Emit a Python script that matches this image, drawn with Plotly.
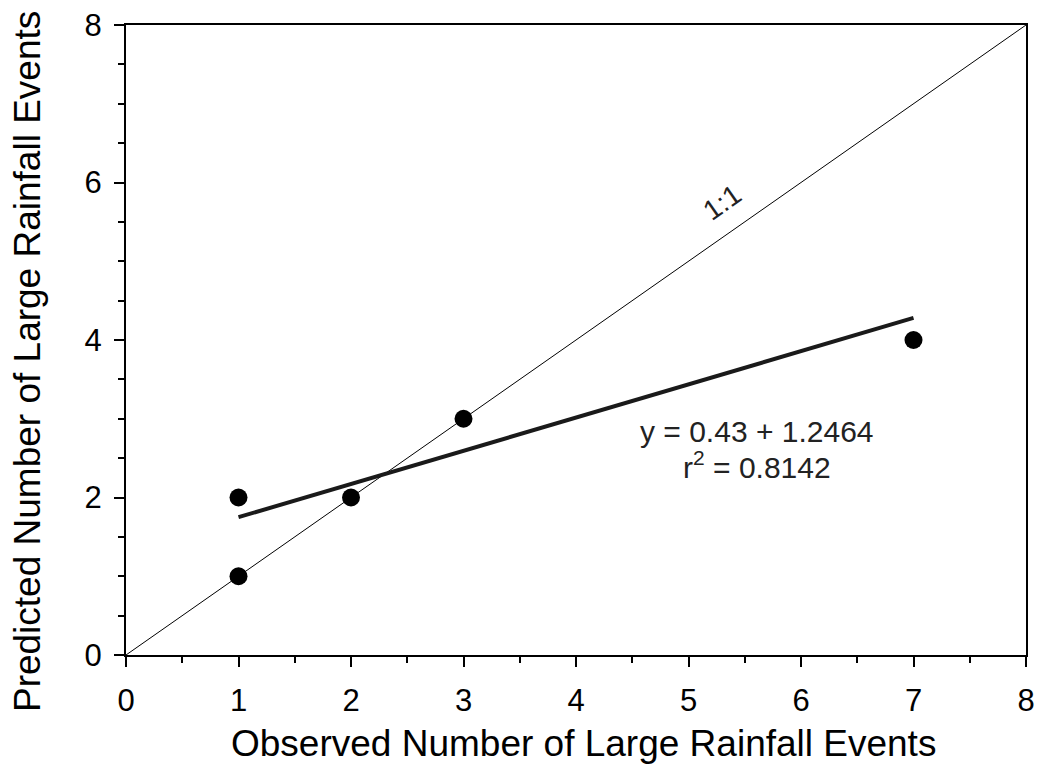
import plotly.graph_objects as go

observed = [1, 1, 2, 3, 7]
predicted = [2, 1, 2, 3, 4]
fit_x = [1, 7]
fit_y = [1.75, 4.28]
one_to_one = [0, 8]
tick_vals = [0, 1, 2, 3, 4, 5, 6, 7, 8]
y_tick_vals = [0, 2, 4, 6, 8]
x_title = "Observed Number of Large Rainfall Events"
y_title = "Predicted Number of Large Rainfall Events"

FONT = "Liberation Sans, Arial, sans-serif"

fig = go.Figure()
fig.add_trace(go.Scatter(x=one_to_one, y=one_to_one, mode="lines",
                         line=dict(color="black", width=1), showlegend=False))
fig.add_trace(go.Scatter(x=fit_x, y=fit_y, mode="lines",
                         line=dict(color="#1a1a1a", width=4), showlegend=False))
fig.add_trace(go.Scatter(x=observed, y=predicted, mode="markers",
                         marker=dict(color="black", size=18), showlegend=False, cliponaxis=False))

fig.add_annotation(x=5.3, y=5.74, text="1:1", showarrow=False, textangle=-35,
                   font=dict(family=FONT, size=28, color="#222"))
fig.add_annotation(x=5.61, y=2.84, text="y = 0.43 + 1.2464", showarrow=False,
                   font=dict(family=FONT, size=30, color="#222"))
fig.add_annotation(x=5.61, y=2.41, text="r<sup>2</sup> = 0.8142", showarrow=False,
                   font=dict(family=FONT, size=30, color="#222"))

# axis titles
fig.add_annotation(xref="paper", yref="paper", x=0.508, y=-0.141, text=x_title,
                   showarrow=False, xanchor="center", yanchor="middle",
                   font=dict(family=FONT, size=37, color="black"))
fig.add_annotation(xref="paper", yref="paper", x=-0.11, y=0.465, text=y_title,
                   showarrow=False, textangle=-90, xanchor="center", yanchor="middle",
                   font=dict(family=FONT, size=37, color="black"))

axis_common = dict(showgrid=False, zeroline=False, showline=True, linecolor="black",
                   linewidth=2, mirror=True, ticks="outside", ticklen=10, tickwidth=2,
                   tickcolor="black", automargin=False,
                   tickfont=dict(family=FONT, size=31, color="black"))

fig.update_xaxes(range=[0, 8], tickvals=tick_vals, ticklabelstandoff=7,
                 minor=dict(dtick=0.5, ticks="outside", ticklen=6, tickwidth=2, tickcolor="black"),
                 **axis_common)
fig.update_yaxes(range=[0, 8], tickvals=y_tick_vals, ticklabelstandoff=6,
                 minor=dict(dtick=0.5, ticks="outside", ticklen=6, tickwidth=2, tickcolor="black"),
                 **axis_common)

fig.update_layout(width=1042, height=771, plot_bgcolor="white", paper_bgcolor="white",
                  margin=dict(l=126, r=16, t=25, b=116))

fig.write_html("out.html")
